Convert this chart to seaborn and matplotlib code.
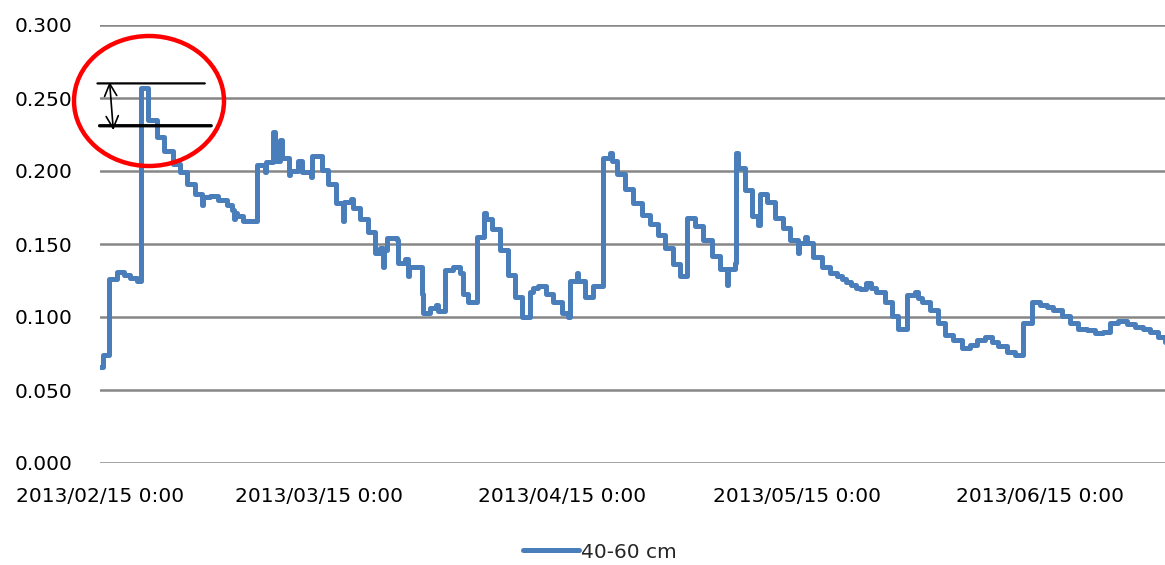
import matplotlib
matplotlib.use("Agg")
import matplotlib.pyplot as plt
from matplotlib.patches import Ellipse
import seaborn as sns
import pandas as pd

# days after 2013/02/15 0:00 and the reading that starts at that time
days = [0.0, 0.4, 1.15, 2.2, 3.1, 3.8, 4.7, 5.2, 6.1, 7.3, 8.2, 9.3, 10.2, 11.1, 12.1,
        13.0, 13.2, 14.0, 15.1, 16.2, 16.9, 17.1, 17.2, 17.5, 18.3, 20.1, 21.1, 21.2,
        22.1, 22.3, 23.0, 23.2, 24.1, 24.3, 25.3, 25.8, 26.9, 27.1, 28.4, 29.1, 30.1,
        31.0, 31.2, 32.1, 32.3, 33.2, 34.2, 35.1, 35.8, 36.1, 36.3, 36.7, 37.9, 38.1,
        39.0, 39.3, 39.5, 41.1, 41.3, 42.1, 42.9, 43.2, 44.1, 45.1, 46.0, 46.4, 47.0,
        48.1, 49.0, 49.3, 50.1, 51.1, 52.1, 53.0, 53.9, 54.9, 55.3, 55.9, 57.0, 57.9,
        59.0, 59.8, 60.0, 60.9, 61.0, 61.9, 63.0, 64.2, 65.1, 65.4, 66.0, 67.0, 68.1,
        69.2, 70.2, 71.3, 72.2, 73.2, 74.1, 75.0, 76.0, 77.0, 78.2, 79.2, 80.1, 80.2,
        81.1, 81.2, 81.5, 82.4, 83.3, 84.0, 84.3, 85.2, 86.2, 87.2, 88.1, 89.1, 89.3,
        90.0, 90.3, 91.1, 92.2, 93.2, 94.1, 94.7, 95.3, 95.9, 96.5, 97.1, 97.8, 98.5,
        99.1, 100.3, 101.1, 101.9, 103.1, 104.1, 104.5, 105.0, 106.0, 107.0, 107.9,
        108.9, 110.1, 111.1, 112.0, 113.0, 113.9, 114.7, 115.8, 116.9, 117.9, 119.0,
        120.0, 120.9, 121.7, 122.9, 123.9, 124.9, 126.1, 127.1, 128.1, 129.0, 130.0,
        131.2, 132.2, 133.2, 134.1, 135.1, 136.0]
vals = [0.066, 0.074, 0.126, 0.131, 0.129, 0.127, 0.125, 0.257, 0.235, 0.223, 0.214,
        0.205, 0.199, 0.191, 0.184, 0.177, 0.182, 0.183, 0.180, 0.177, 0.173, 0.167,
        0.171, 0.169, 0.166, 0.204, 0.199, 0.206, 0.227, 0.207, 0.221, 0.209, 0.197,
        0.200, 0.207, 0.199, 0.196, 0.210, 0.201, 0.191, 0.178, 0.166, 0.179, 0.181,
        0.175, 0.167, 0.158, 0.144, 0.147, 0.134, 0.146, 0.154, 0.153, 0.137, 0.140,
        0.128, 0.134, 0.116, 0.103, 0.106, 0.108, 0.104, 0.132, 0.134, 0.130, 0.116,
        0.110, 0.155, 0.171, 0.167, 0.160, 0.146, 0.129, 0.114, 0.100, 0.117, 0.120,
        0.121, 0.116, 0.110, 0.103, 0.100, 0.125, 0.130, 0.125, 0.114, 0.121, 0.209,
        0.212, 0.207, 0.198, 0.188, 0.178, 0.170, 0.164, 0.156, 0.147, 0.136, 0.128,
        0.168, 0.162, 0.153, 0.142, 0.133, 0.122, 0.133, 0.137, 0.212, 0.202, 0.187,
        0.169, 0.163, 0.184, 0.179, 0.168, 0.161, 0.153, 0.144, 0.151, 0.155, 0.151,
        0.141, 0.134, 0.130, 0.128, 0.126, 0.124, 0.122, 0.120, 0.119, 0.123, 0.120,
        0.117, 0.110, 0.101, 0.092, 0.115, 0.117, 0.113, 0.110, 0.105, 0.096, 0.088,
        0.084, 0.079, 0.081, 0.084, 0.086, 0.083, 0.080, 0.076, 0.074, 0.096, 0.110,
        0.108, 0.107, 0.105, 0.101, 0.096, 0.092, 0.091, 0.089, 0.090, 0.096, 0.097,
        0.095, 0.093, 0.092, 0.090, 0.086, 0.083]

series_name = "40-60 cm"
start = pd.Timestamp("2013-02-15")
tick_dates = ["2013-02-15", "2013-03-15", "2013-04-15", "2013-05-15", "2013-06-15"]
tick_labels = ["2013/02/15 0:00", "2013/03/15 0:00", "2013/04/15 0:00",
               "2013/05/15 0:00", "2013/06/15 0:00"]
y_ticks = [0.0, 0.05, 0.10, 0.15, 0.20, 0.25, 0.30]
band_top, band_bottom = 0.260, 0.231

df = pd.DataFrame({"time": start + pd.to_timedelta(days, unit="D"), "value": vals})

sns.set_style("white")
plt.rcParams["font.family"] = ["DejaVu Sans"]

fig = plt.figure(figsize=(11.65, 5.65), dpi=100)
ax = fig.add_axes([100 / 1165, 1 - 463 / 565, 1065 / 1165, 438 / 565])

sns.lineplot(data=df, x="time", y="value", ax=ax, color="#4A7EBB", lw=3.6,
             drawstyle="steps-post", estimator=None, label=series_name,
             solid_joinstyle="round", solid_capstyle="round", zorder=3)

ax.set_xlim(start, start + pd.Timedelta(days=136))
ax.set_ylim(0, 0.30)
ax.set_yticks(y_ticks)
ax.set_yticklabels([f"{v:.3f}" for v in y_ticks])
ax.set_xticks(pd.to_datetime(tick_dates))
ax.set_xticklabels(tick_labels)
ax.grid(axis="y", color="#868686", lw=1.8)
ax.grid(axis="x", visible=False)
ax.set_axisbelow(True)
for s in ax.spines.values():
    s.set_visible(False)
ax.tick_params(axis="y", length=0, pad=20, labelsize=14.5, labelcolor="black")
ax.tick_params(axis="x", length=0, pad=17, labelsize=14.5, labelcolor="black")
ax.set_xlabel("")
ax.set_ylabel("")

# annotation: peak amplitude marker
blend = ("axes fraction", "data")
ax.annotate("", xy=(-0.005, band_top), xytext=(0.101, band_top), xycoords=blend,
            textcoords=blend, arrowprops=dict(arrowstyle="-", color="black", lw=1.6),
            annotation_clip=False)
ax.annotate("", xy=(-0.003, band_bottom), xytext=(0.107, band_bottom), xycoords=blend,
            textcoords=blend, arrowprops=dict(arrowstyle="-", color="black", lw=2.4),
            annotation_clip=False)
ax.annotate("", xy=(0.009, band_top + 0.001), xytext=(0.0125, band_bottom - 0.003),
            xycoords=blend, textcoords=blend,
            arrowprops=dict(arrowstyle="<->", color="black", lw=1.2,
                            mutation_scale=22, shrinkA=0, shrinkB=0),
            annotation_clip=False)
ax.add_patch(Ellipse((49 / 1065, (463 - 101) / 438), 150 / 1065, 130 / 438,
                     transform=ax.transAxes, fill=False, edgecolor="#FF0000",
                     lw=3.2, clip_on=False, zorder=4))

ax.get_legend().remove()
handles, labels = ax.get_legend_handles_labels()
fig.legend(handles, labels, loc="center", bbox_to_anchor=(600 / 1165, 1 - 552 / 565),
           frameon=False, fontsize=14.5, handlelength=2.8, handletextpad=0.1)

fig.savefig("out.png", dpi=100)
